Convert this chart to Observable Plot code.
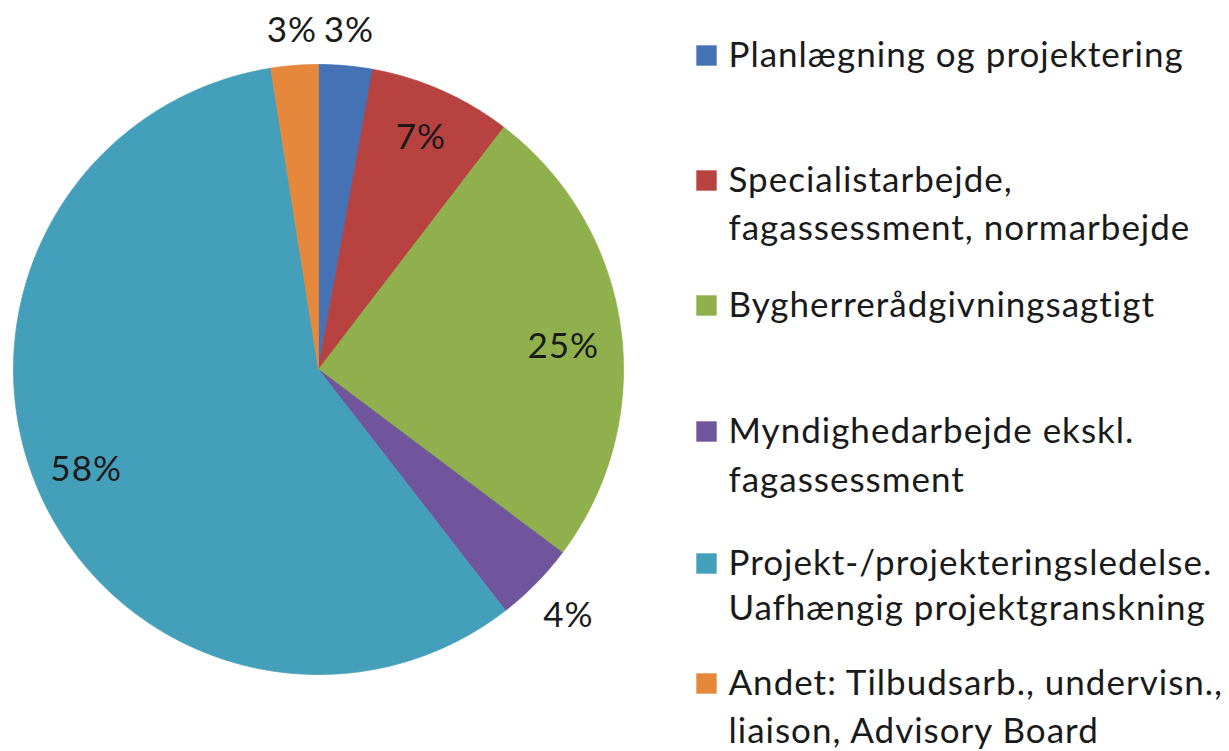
<!DOCTYPE html>
<html>
<head>
<meta charset="utf-8">
<script src="https://cdn.jsdelivr.net/npm/d3@7"></script>
<script src="https://cdn.jsdelivr.net/npm/@observablehq/plot@0.6"></script>
<style>
  html, body { margin: 0; padding: 0; background: #ffffff; }
  #chart { width: 1229px; height: 751px; }
  #chart text { letter-spacing: 1px; }
</style>
</head>
<body>
<div id="chart"></div>
<script>
// ---- data ----
const categories = [
  "Planlægning og projektering",
  "Specialistarbejde, fagassessment, normarbejde",
  "Bygherrerådgivningsagtigt",
  "Myndighedarbejde ekskl. fagassessment",
  "Projekt-/projekteringsledelse. Uafhængig projektgranskning",
  "Andet: Tilbudsarb., undervisn., liaison, Advisory Board"
];
const shares = [2.85, 7.55, 24.85, 4.25, 58.0, 2.5];
const percentLabels = ["3%", "7%", "25%", "4%", "58%", "3%"];
const legendLines = [
  ["Planlægning og projektering"],
  ["Specialistarbejde,", "fagassessment, normarbejde"],
  ["Bygherrerådgivningsagtigt"],
  ["Myndighedarbejde ekskl.", "fagassessment"],
  ["Projekt-/projekteringsledelse.", "Uafhængig projektgranskning"],
  ["Andet: Tilbudsarb., undervisn.,", "liaison, Advisory Board"]
];
const colors = ["#4472b4", "#b8423f", "#8fb04c", "#70559c", "#449fba", "#e5883b"];

// ---- layout ----
const W = 1229, H = 751;
const cx = 318, cy = 369, R = 305;
const labelRadius = [1.115, 0.83, 0.81, 1.15, 0.83, 1.115];
const labelDy = [0, 0, 11, 0, 0, 0];
const fontSize = 35;
const legendX = 706, legendTextX = 728;
const legendBaselines = [[67], [192, 240], [317], [443, 492], [575, 620], [695, 743]];

// pie geometry from the values
const arcs = d3.pie().sort(null).value(d => d)(shares);
const slicePts = [];
arcs.forEach((a, i) => {
  const key = categories[i];
  slicePts.push({key, x: cx, y: cy});
  const n = Math.max(4, Math.ceil((a.endAngle - a.startAngle) / 0.005));
  for (let k = 0; k <= n; k++) {
    const t = a.startAngle + (a.endAngle - a.startAngle) * k / n;
    slicePts.push({key, x: cx + R * Math.sin(t), y: cy - R * Math.cos(t)});
  }
  slicePts.push({key, x: cx, y: cy});
});

const labelData = arcs.map((a, i) => {
  const m = (a.startAngle + a.endAngle) / 2;
  const r = R * labelRadius[i];
  return {text: percentLabels[i], x: cx + r * Math.sin(m), y: cy - r * Math.cos(m) + labelDy[i]};
});

const legendSwatches = categories.map((c, i) => ({key: c, x: legendX, y: legendBaselines[i][0] - 12}));
const legendText = [];
legendLines.forEach((lines, i) => lines.forEach((t, j) => {
  legendText.push({text: t, x: legendTextX, y: legendBaselines[i][j] - 12});
}));

const chart = Plot.plot({
  width: W,
  height: H,
  margin: 0,
  x: {domain: [0, W], range: [0, W], axis: null},
  y: {domain: [0, H], range: [0, H], axis: null},
  color: {domain: categories, range: colors},
  style: {fontFamily: "Lato, 'Open Sans', sans-serif", background: "#ffffff"},
  marks: [
    Plot.line(slicePts, {x: "x", y: "y", z: "key", fill: "key", stroke: "key", strokeWidth: 0.8, curve: "linear"}),
    Plot.text(labelData, {x: "x", y: "y", text: "text", fontSize, fill: "#1a1a1a", textAnchor: "middle"}),
    Plot.dot(legendSwatches, {x: "x", y: "y", fill: "key", symbol: "square", r: 11.5, stroke: null}),
    Plot.text(legendText, {x: "x", y: "y", text: "text", fontSize, fill: "#1a1a1a", textAnchor: "start"})
  ]
});
document.getElementById("chart").appendChild(chart);
</script>
</body>
</html>
